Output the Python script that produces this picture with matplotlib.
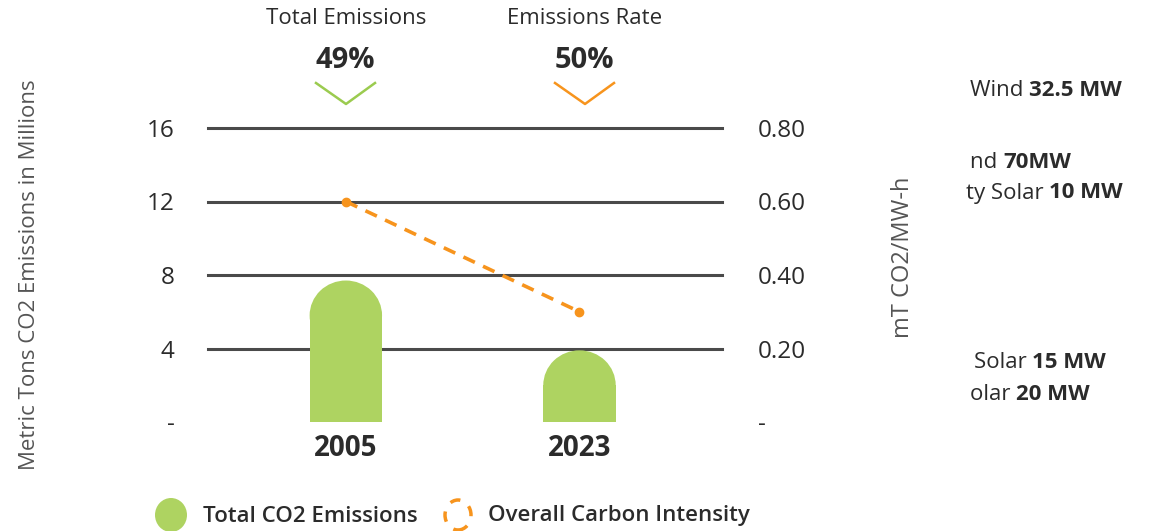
import matplotlib.pyplot as plt
from matplotlib.patches import Rectangle, Ellipse
from matplotlib.lines import Line2D
import numpy as np

plt.rcParams['font.family'] = ['Open Sans', 'DejaVu Sans']

years = ["2005", "2023"]
total_co2 = [7.7, 3.9]            # million metric tons
intensity = [0.60, 0.30]          # mT CO2 / MW-h
left_ticks = [0, 4, 8, 12, 16]
left_labels = ["-", "4", "8", "12", "16"]
right_ticks = [0, 0.2, 0.4, 0.6, 0.8]
right_labels = ["-", "0.20", "0.40", "0.60", "0.80"]
callouts = [("Total Emissions", "49%"), ("Emissions Rate", "50%")]
side_notes = [("Wind ", "32.5 MW"), ("nd ", "70MW"), ("ty Solar ", "10 MW"),
              ("Solar ", "15 MW"), ("olar ", "20 MW")]
legend_labels = ["Total CO2 Emissions", "Overall Carbon Intensity"]

GREEN = "#AED361"
ORANGE = "#F7941D"
DARK = "#2b2b2b"
GREY = "#555555"

W, H = 1150, 531
fig = plt.figure(figsize=(W / 100, H / 100), dpi=100)
ax = fig.add_axes([208 / W, (H - 422) / H, (722 - 208) / W, (422 - 128) / H])
ax2 = ax.twinx()

x = np.arange(len(years))
bw = 0.31
dome = 1.9
ax.set_xlim(-0.59, 1.61)
ax.set_ylim(0, 16)
ax2.set_ylim(0, 0.8)

for t in left_ticks[1:]:
    ax.axhline(t, color="#4a4a4a", lw=2.2, zorder=1, clip_on=False)

# bars with rounded tops
bars = ax.bar(x, total_co2, width=bw, color="none")
for b in bars:
    x0, w, h = b.get_x(), b.get_width(), b.get_height()
    ax.add_patch(Rectangle((x0, 0), w, h - dome, color=GREEN, lw=0, zorder=2))
    ax.add_patch(Ellipse((x0 + w / 2, h - dome), w, 2 * dome, color=GREEN, lw=0, zorder=2))

ax2.plot(x, intensity, color=ORANGE, lw=2.6, ls=(0, (3.5, 2.5)), marker="o", ms=6, zorder=3)

for a in (ax, ax2):
    for s in a.spines.values():
        s.set_visible(False)
    a.tick_params(length=0)

ax.set_yticks(left_ticks, left_labels, fontsize=17.5, color=DARK)
ax.tick_params(axis="y", pad=24)
ax2.set_yticks(right_ticks, right_labels, fontsize=17.5, color=DARK)
ax2.tick_params(axis="y", pad=26)
ax.set_xticks(x, years, fontsize=20, fontweight="bold", color=DARK)
ax.tick_params(axis="x", pad=9)

fig.text(30 / W, 1 - 275 / H, "Metric Tons CO2 Emissions in Millions", rotation=90,
         ha="center", va="center", fontsize=16, color=GREY)
fig.text(903 / W, 1 - 257 / H, "mT CO2/MW-h", rotation=90,
         ha="center", va="center", fontsize=17, color=GREY)

# callouts above the chart
call_x = [346, 585]
chev_col = ["#9BCB4F", ORANGE]
for (label, pct), cx, col in zip(callouts, call_x, chev_col):
    fig.text(cx / W, 1 - 19 / H, label, ha="center", va="center", fontsize=16, color=DARK)
    fig.text((cx - 1) / W, 1 - 60 / H, pct, ha="center", va="center", fontsize=21,
             fontweight="bold", color=DARK)
    fig.add_artist(Line2D([(cx - 30) / W, cx / W, (cx + 29) / W],
                          [1 - 83 / H, 1 - 104 / H, 1 - 83 / H], color=col, lw=1.8))

# cropped notes on the right
renderer = fig.canvas.get_renderer()
note_y = [90, 163, 193, 363, 395]
note_x = [970, 970, 966, 974, 970]
for (plain, bold), ny, nx in zip(side_notes, note_y, note_x):
    t1 = fig.text(nx / W, 1 - ny / H, plain, ha="left", va="center", fontsize=16, color=DARK)
    bb = t1.get_window_extent(renderer)
    fig.text(bb.x1 / W, 1 - ny / H, bold, ha="left", va="center", fontsize=16,
             fontweight="bold", color=DARK)

# legend
fig.add_artist(Ellipse((171 / W, 1 - 515 / H), 32 / W, 34 / H, color=GREEN, lw=0))
fig.text(203 / W, 1 - 516 / H, legend_labels[0], ha="left", va="center", fontsize=16,
         fontweight="semibold", color=DARK)
fig.add_artist(Ellipse((458 / W, 1 - 515 / H), 26 / W, 30 / H, facecolor="none",
                       edgecolor=ORANGE, lw=2.5, ls=(0, (3, 3))))
fig.text(488 / W, 1 - 516 / H, legend_labels[1], ha="left", va="center", fontsize=16,
         fontweight="semibold", color=DARK)

fig.savefig("out.png", dpi=100)
